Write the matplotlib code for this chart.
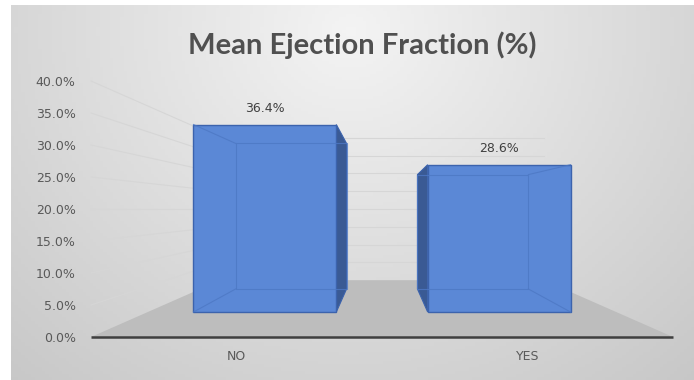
import numpy as np
import matplotlib.pyplot as plt
from matplotlib.patches import Polygon

categories = ['NO', 'YES']
values = [36.4, 28.6]
ticks = [0, 5, 10, 15, 20, 25, 30, 35, 40]

# fake 3d: one-point perspective in data coords
vx, vy = 0.5, 20.0        # vanishing point (category units, %)
s_back = 0.556            # scale of the back wall
s_bf, s_bb = 0.805, 0.625 # bar front / back depth scale
hw = 0.305                # bar half width


def proj(x, y, s):
    return vx + (x - vx) * s, vy + (y - vy) * s


fig = plt.figure(figsize=(6.94, 3.8), dpi=100)
fig.patch.set_facecolor('white')

# background gradient
bg = fig.add_axes([11 / 694, 0, 1 - 11 / 694, 1 - 5 / 380])
gx, gy = np.meshgrid(np.linspace(11, 694, 200), np.linspace(5, 380, 120))
r = np.sqrt(((gx - 350) / 420) ** 2 + ((gy - 30) / 380) ** 2)
g = np.clip(0.955 - 0.14 * r, 0.78, 1)
bg.imshow(np.dstack([g, g, g]), aspect='auto', extent=[0, 1, 0, 1])
bg.axis('off')

ax = fig.add_axes([91 / 694, 43 / 380, 582 / 694, 256 / 380])
ax.set_xlim(-0.5, 1.5)
ax.set_ylim(0, 40)
ax.patch.set_alpha(0)
for sp in ax.spines.values():
    sp.set_visible(False)

xl, xr = -0.5, 1.5
bl = proj(xl, 0, s_back)
br = proj(xr, 0, s_back)

# gridlines on side and back walls
for t in ticks[1:]:
    p0 = proj(xl, t, s_back)
    p1 = proj(xr, t, s_back)
    ax.plot([xl, p0[0]], [t, p0[1]], color='#d6d6d6', lw=0.8, clip_on=False, zorder=1)
    ax.plot([p0[0], p1[0]], [p0[1], p1[1]], color='#d6d6d6', lw=0.8, clip_on=False, zorder=1)

# floor
floor = Polygon([(xl, 0), (xr, 0), br, bl], closed=True, fc='#bdbdbd', ec='none',
                zorder=2, clip_on=False)
ax.add_patch(floor)
ax.plot([xl, xr], [0, 0], color='#3f3f3f', lw=1.8, zorder=3, clip_on=False,
        solid_capstyle='butt')

front_c = '#5b88d6'
side_c = '#3a5a94'
edge_c = '#3c63ad'

for i, v in enumerate(values):
    x0, x1 = i - hw, i + hw
    xs = x1 if x1 < vx else x0
    side = [proj(xs, 0, s_bf), proj(xs, v, s_bf), proj(xs, v, s_bb), proj(xs, 0, s_bb)]
    ax.add_patch(Polygon(side, closed=True, fc=side_c, ec=edge_c, lw=0.8,
                         zorder=4, clip_on=False))
    front = [proj(x0, 0, s_bf), proj(x1, 0, s_bf), proj(x1, v, s_bf), proj(x0, v, s_bf)]
    ax.add_patch(Polygon(front, closed=True, fc=front_c, ec=edge_c, lw=1.0,
                         zorder=5, clip_on=False))
    # see-through edges of the box
    back = [proj(x0, 0, s_bb), proj(x1, 0, s_bb), proj(x1, v, s_bb), proj(x0, v, s_bb)]
    ax.add_patch(Polygon(back, closed=True, fill=False, ec='#4d78c4', lw=0.8,
                         alpha=0.8, zorder=6, clip_on=False))
    xo = x0 if xs == x1 else x1
    for y in (0, v):
        a = proj(xo, y, s_bf)
        b = proj(xo, y, s_bb)
        ax.plot([a[0], b[0]], [a[1], b[1]], color='#4d78c4', lw=0.8, alpha=0.8,
                zorder=6, clip_on=False)
    # value label
    top = proj(i, v, s_bf)
    ax.annotate(f'{v:.1f}%', top, xytext=(0, 7), textcoords='offset points',
                ha='center', va='bottom', fontsize=9, color='#404040', zorder=7)

ax.set_yticks(ticks)
ax.set_yticklabels([f'{t:.1f}%' for t in ticks])
ax.set_xticks(range(len(categories)))
ax.set_xticklabels(categories)
ax.tick_params(axis='y', length=0, pad=11, labelsize=9, labelcolor='#595959')
ax.tick_params(axis='x', length=0, pad=9, labelsize=9, labelcolor='#595959')

fig.text(362 / 694, 1 - 45 / 380, 'Mean Ejection Fraction (%)', ha='center', va='center',
         fontsize=21, fontweight='bold', color='#505050', family=['Lato', 'DejaVu Sans'])

fig.savefig('out.png', dpi=100)
